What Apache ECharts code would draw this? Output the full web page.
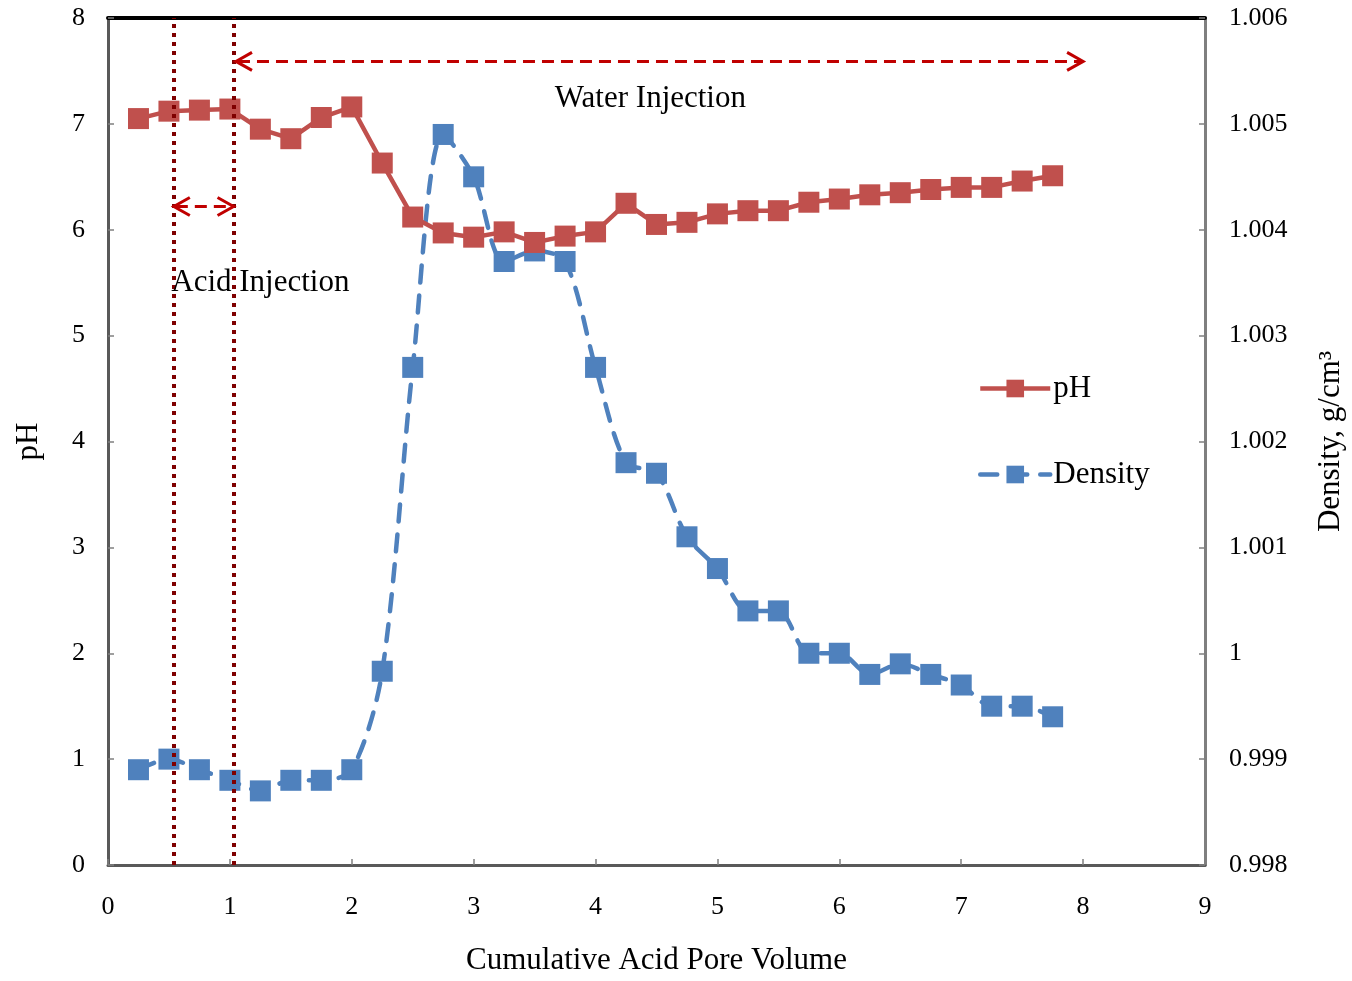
<!DOCTYPE html>
<html>
<head>
<meta charset="utf-8">
<script src="https://cdn.jsdelivr.net/npm/echarts@6/dist/echarts.min.js"></script>
<style>html,body{margin:0;padding:0;background:#fff}#c{width:1352px;height:981px}</style>
</head>
<body>
<div id="c"></div>
<script>
const pvValues = [0.25,0.5,0.75,1,1.25,1.5,1.75,2,2.25,2.5,2.75,3,3.25,3.5,3.75,4,4.25,4.5,4.75,5,5.25,5.5,5.75,6,6.25,6.5,6.75,7,7.25,7.5,7.75];
const phValues = [7.05,7.12,7.13,7.14,6.95,6.86,7.06,7.16,6.63,6.12,5.97,5.93,5.98,5.88,5.94,5.98,6.25,6.05,6.07,6.15,6.18,6.18,6.26,6.29,6.33,6.35,6.38,6.40,6.40,6.46,6.51];
const densityValues = [0.9989,0.9990,0.9989,0.9988,0.9987,0.9988,0.9988,0.9989,0.99983,1.0027,1.0049,1.0045,1.0037,1.0038,1.0037,1.0027,1.0018,1.0017,1.0011,1.0008,1.0004,1.0004,1.0000,1.0000,0.9998,0.9999,0.9998,0.9997,0.9995,0.9995,0.9994];
const injectionBoundaries = [0.54, 1.03];
// arrows: [xStart, xEnd, pH level]
const arrowSpans = [[0.54, 1.03, 6.22], [1.05, 8.0, 7.59]];
// annotation texts: [x, pH level, text]
const annotations = [[1.25, 5.5, 'Acid Injection'], [4.45, 7.24, 'Water Injection']];

const FONT = '"Liberation Serif", "Times New Roman", serif';
const phData = pvValues.map((x, i) => [x, phValues[i]]);
const denData = pvValues.map((x, i) => [x, densityValues[i]]);

const chart = echarts.init(document.getElementById('c'));
const arrowRed = '#C00000';
const lineRed = '#7F0000';

chart.setOption({
  animation: false,
  backgroundColor: '#fff',
  textStyle: { fontFamily: FONT },
  grid: { left: 108, right: 147, top: 18, bottom: 116, outerBoundsMode: 'none', containLabel: false },
  legend: {
    orient: 'vertical', left: 973, top: 368, itemGap: 55,
    itemWidth: 70, itemHeight: 22,
    textStyle: { fontFamily: FONT, fontSize: 31, color: '#000', padding: [0, 0, 0, -2] },
    data: [
      { name: 'pH', lineStyle: { width: 4.5 } },
      { name: 'Density', lineStyle: { width: 4.5 } }
    ]
  },
  xAxis: [{
    type: 'value', min: 0, max: 9, interval: 1,
    name: 'Cumulative Acid Pore Volume', nameLocation: 'middle', nameGap: 80,
    nameTextStyle: { fontFamily: FONT, fontSize: 31, color: '#000' },
    axisLine: { show: true, onZero: false, lineStyle: { color: '#595959', width: 3 } },
    axisTick: { show: true, inside: true, length: 6, lineStyle: { color: '#808080', width: 1.5 } },
    axisLabel: { fontFamily: FONT, fontSize: 26, color: '#000', margin: 29 },
    splitLine: { show: false }
  }, {
    type: 'value', min: 0, max: 9, position: 'top',
    axisLine: { show: true, onZero: false, lineStyle: { color: '#000', width: 4 } },
    axisTick: { show: false }, axisLabel: { show: false }, splitLine: { show: false }
  }],
  yAxis: [{
    type: 'value', min: 0, max: 8, interval: 1,
    name: 'pH', nameLocation: 'middle', nameGap: 64, nameRotate: 90,
    nameTextStyle: { fontFamily: FONT, fontSize: 31, color: '#000' },
    axisLine: { show: true, onZero: false, lineStyle: { color: '#595959', width: 3 } },
    axisTick: { show: true, inside: true, length: 6, lineStyle: { color: '#808080', width: 1.5 } },
    axisLabel: { fontFamily: FONT, fontSize: 26, color: '#000', margin: 23 },
    splitLine: { show: false }
  }, {
    type: 'value', min: 0.998, max: 1.006, interval: 0.001, position: 'right',
    name: 'Density, g/cm³', nameLocation: 'middle', nameGap: 110, nameRotate: 90,
    nameTextStyle: { fontFamily: FONT, fontSize: 31, color: '#000' },
    axisLine: { show: true, onZero: false, lineStyle: { color: '#7F7F7F', width: 3 } },
    axisTick: { show: true, inside: true, length: 6, lineStyle: { color: '#808080', width: 1.5 } },
    axisLabel: { fontFamily: FONT, fontSize: 26, color: '#000', margin: 24,
      formatter: v => String(parseFloat(v.toFixed(3))) },
    splitLine: { show: false }
  }],
  series: [{
    name: 'Density', type: 'line', yAxisIndex: 1, data: denData, smooth: 0.3,
    symbol: 'rect', symbolSize: 21,
    itemStyle: { color: '#4F81BD' },
    lineStyle: { color: '#4F81BD', width: 4.5, type: [17, 13], cap: 'round' },
    z: 3
  }, {
    name: 'pH', type: 'line', yAxisIndex: 0, data: phData,
    symbol: 'rect', symbolSize: 21,
    itemStyle: { color: '#C0504D' },
    lineStyle: { color: '#C0504D', width: 4.5 },
    z: 4,
    markLine: {
      silent: true, symbol: ['none', 'none'], label: { show: false },
      lineStyle: { color: lineRed, width: 4, type: [4, 5] },
      data: injectionBoundaries.map(x => ({ xAxis: x }))
    }
  }, {
    type: 'custom', yAxisIndex: 0, data: arrowSpans, z: 5, silent: true,
    renderItem: function (params, api) {
      const p1 = api.coord([api.value(0), api.value(2)]);
      const p2 = api.coord([api.value(1), api.value(2)]);
      const hl = 16, hh = 9;
      const style = { stroke: arrowRed, lineWidth: 3, fill: null };
      return {
        type: 'group', children: [
          { type: 'line', shape: { x1: p1[0] + 2, y1: p1[1], x2: p2[0] - 2, y2: p2[1] },
            style: { stroke: arrowRed, lineWidth: 3, lineDash: [12, 7] } },
          { type: 'polyline', shape: { points: [[p1[0] + hl, p1[1] - hh], [p1[0], p1[1]], [p1[0] + hl, p1[1] + hh]] }, style },
          { type: 'polyline', shape: { points: [[p2[0] - hl, p2[1] - hh], [p2[0], p2[1]], [p2[0] - hl, p2[1] + hh]] }, style }
        ]
      };
    }
  }, {
    type: 'custom', yAxisIndex: 0, data: annotations, z: 6, silent: true,
    renderItem: function (params, api) {
      const p = api.coord([api.value(0), api.value(1)]);
      return {
        type: 'text', x: p[0], y: p[1],
        style: { text: annotations[params.dataIndex][2], fontFamily: FONT, fontSize: 31,
          fill: '#000', align: 'center', verticalAlign: 'middle' }
      };
    }
  }]
});
</script>
</body>
</html>
